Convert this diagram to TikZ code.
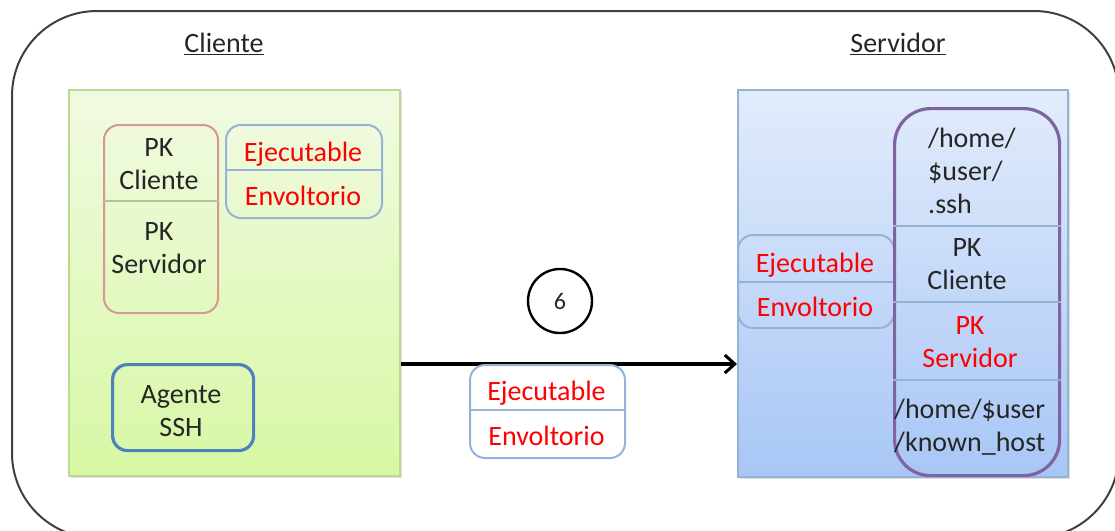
\documentclass[tikz,border=0pt]{standalone}
\usepackage{fontspec}
\setmainfont{Carlito}
\usetikzlibrary{arrows.meta}
\definecolor{redtxt}{HTML}{FF0000}
\definecolor{boxblue}{HTML}{95B3D7}
\definecolor{agentblue}{HTML}{4F81BD}
\definecolor{pkred}{HTML}{D99694}
\definecolor{purp}{HTML}{8064A2}
\definecolor{greenedge}{HTML}{B9DA8F}
\tikzset{
  txt/.style={font=\fontsize{28}{33}\selectfont, align=center, inner sep=0pt, text=black!85},
  red txt/.style={txt, text=redtxt},
  title/.style={font=\fontsize{28}{33}\selectfont, inner sep=0pt, text=black!85},
  panel/.style={draw, line width=1.6pt, inner sep=0pt, anchor=north west},
  inbox/.style={draw, rounded corners=15pt, line width=2pt, inner sep=0pt, anchor=north west},
  divider/.style={line width=1.6pt},
  shadowbox/.style={fill=black!25, draw=none, inner sep=0pt, anchor=north west},
}
\begin{document}
\begin{tikzpicture}[x=1pt,y=-1pt]
\useasboundingbox (0,0) rectangle (1115,530);
% outer frame
\begin{scope}
\clip (0,0) rectangle (1115,530);
\draw[line width=2pt, black!75, rounded corners=85pt] (12,11) rectangle (1119,538);
\end{scope}

% titles
\node[title] (tcli) at (224,44) {\underline{Cliente}};
\node[title] (tsrv) at (898,44) {\underline{Servidor}};

% client panel
\node[shadowbox, minimum width=331pt, minimum height=386pt, fill opacity=0.5] at (71,92) {};
\node[panel, draw=greenedge, top color={rgb,255:red,241;green,250;blue,226}, bottom color={rgb,255:red,215;green,248;blue,164},
      minimum width=331pt, minimum height=386pt] (cli) at (68,89) {};

% server panel
\node[shadowbox, minimum width=330pt, minimum height=387pt, fill opacity=0.5] at (740,92) {};
\node[panel, draw=boxblue, top color={rgb,255:red,226;green,236;blue,251}, bottom color={rgb,255:red,168;green,198;blue,246},
      minimum width=330pt, minimum height=387pt] (srv) at (737,89) {};

% client: public keys
\node[inbox, draw=pkred, minimum width=114pt, minimum height=188pt] (pkbox) at (103,124) {};
\draw[divider, draw=greenedge!80!gray] (pkbox.west |- 0,201) -- (pkbox.east |- 0,201);
\node[txt] (pkc1) at (159,164.5) {PK\\Cliente};
\node[txt] (pks1) at (159,248.5) {PK\\Servidor};

% client: executable / wrapper
\node[inbox, draw=boxblue, minimum width=156pt, minimum height=93pt] (ee1) at (225,124) {};
\draw[divider, draw=boxblue] (ee1.west |- 0,170) -- (ee1.east |- 0,170);
\node[red txt] (ej1) at (303,154) {Ejecutable};
\node[red txt] (en1) at (303,196) {Envoltorio};

% client: agent
\node[inbox, draw=agentblue, line width=3.2pt, minimum width=141pt, minimum height=86pt] (agent) at (111,363) {};
\node[txt] (agtxt) at (181,411.5) {Agente\\SSH};

% transfer arrow
\node[circle, draw, line width=2.4pt, minimum size=64pt, inner sep=0pt, font=\fontsize{24}{28}\selectfont, text=black!85] (six) at (560,301) {6};
\draw[line width=3.4pt, -{Straight Barb[length=10pt,width=18pt,line width=3pt]}] (cli.east |- 0,364) -- (srv.west |- 0,364);

% payload in transit
\node[inbox, draw=boxblue, fill=white, minimum width=155pt, minimum height=93pt] (ee2) at (469,364) {};
\draw[divider, draw=boxblue] (ee2.west |- 0,410) -- (ee2.east |- 0,410);
\node[red txt] (ej2) at (546.5,393) {Ejecutable};
\node[red txt] (en2) at (546.5,436) {Envoltorio};

% server: executable / wrapper
\node[inbox, draw=boxblue, minimum width=156pt, minimum height=93pt] (ee3) at (737,234) {};
\draw[divider, draw=boxblue] (ee3.west |- 0,282) -- (ee3.east |- 0,282);
\node[red txt] (ej3) at (815,265) {Ejecutable};
\node[red txt] (en3) at (815,307) {Envoltorio};

% server: .ssh directory
\node[inbox, draw=purp, rounded corners=36pt, line width=3.2pt, minimum width=165pt, minimum height=367pt] (ssh) at (893,107) {};
\draw[divider, draw=boxblue] (ssh.west |- 0,226) -- (ssh.east |- 0,226);
\draw[divider, draw=boxblue] (ssh.west |- 0,302) -- (ssh.east |- 0,302);
\draw[divider, draw=boxblue] (ssh.west |- 0,380) -- (ssh.east |- 0,380);
\node[txt, align=left, anchor=west] (dir) at (928,171) {/home/\\\$user/\\.ssh};
\node[txt] (pkc2) at (967,264) {PK\\Cliente};
\node[red txt] (pks2) at (970,342) {PK\\Servidor};
\node[txt, align=left, anchor=west] (kh) at (894,427) {/home/\$user\\/known\_host};
\end{tikzpicture}
\end{document}
